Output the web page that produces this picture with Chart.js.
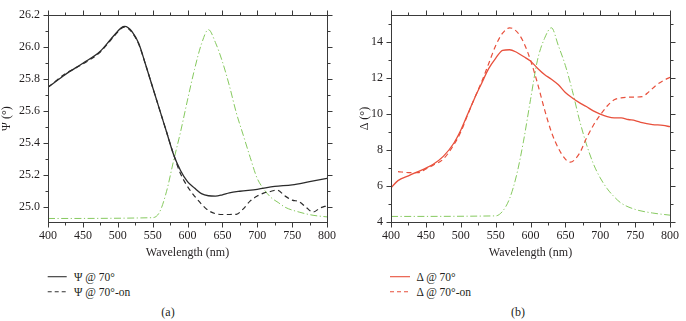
<!DOCTYPE html>
<html>
<head>
<meta charset="utf-8">
<script src="https://cdn.jsdelivr.net/npm/chart.js@4.4.1/dist/chart.umd.min.js"></script>
<style>
  html,body{margin:0;padding:0;background:#fff;}
  #wrap{position:relative;width:686px;height:321px;background:#fff;font-family:"Liberation Serif","DejaVu Serif",serif;color:#231f20;}
  canvas{position:absolute;top:0;}
  .lg{position:absolute;font-size:11.5px;line-height:14px;white-space:nowrap;}
  .cap{position:absolute;font-size:12px;line-height:14px;transform:translateX(-50%);}
  svg{position:absolute;overflow:visible;}
</style>
</head>
<body>
<div id="wrap">
  <canvas id="c1" width="343" height="262" style="left:0"></canvas>
  <canvas id="c2" width="343" height="262" style="left:343px"></canvas>

  <svg style="left:47px;top:270px" width="22" height="26">
    <line x1="0.7" y1="6.7" x2="19.7" y2="6.7" stroke="#333" stroke-width="1.1"/>
    <line x1="0.7" y1="21.7" x2="19.7" y2="21.7" stroke="#333" stroke-width="1.1" stroke-dasharray="4,3"/>
  </svg>
  <div class="lg" style="left:74px;top:269.5px">Ψ @ 70°</div>
  <div class="lg" style="left:74px;top:284.5px">Ψ @ 70°-on</div>
  <div class="cap" style="left:168px;top:305px">(a)</div>

  <svg style="left:390px;top:270px" width="22" height="26">
    <line x1="0" y1="6.7" x2="20" y2="6.7" stroke="#e8503c" stroke-width="1.1"/>
    <line x1="0" y1="21.7" x2="20" y2="21.7" stroke="#e8503c" stroke-width="1.1" stroke-dasharray="4,3"/>
  </svg>
  <div class="lg" style="left:416.5px;top:269.5px">Δ @ 70°</div>
  <div class="lg" style="left:416.5px;top:284.5px">Δ @ 70°-on</div>
  <div class="cap" style="left:518px;top:305px">(b)</div>
</div>
<script>
// ---------- data (a) Ψ ----------
const psiWl  = [400,425,450,475,490,500,505,510,515,520,530,540,550,560,570,580,590,600,610,620,630,640,650,660,675,700,725,750,775,800];
const psiVal = [25.75,25.83,25.90,25.975,26.05,26.10,26.122,26.13,26.122,26.10,26.025,25.89,25.75,25.61,25.47,25.33,25.23,25.16,25.12,25.085,25.072,25.07,25.078,25.09,25.10,25.112,25.13,25.14,25.16,25.18];

const psiOnWl  = [400,425,450,475,490,500,505,510,515,520,530,540,550,560,570,580,590,600,610,620,630,640,650,660,670,680,690,700,710,720,728,740,750,760,770,780,790,800];
const psiOnVal = [25.75,25.835,25.895,25.97,26.045,26.095,26.117,26.125,26.117,26.095,26.02,25.89,25.75,25.61,25.47,25.33,25.21,25.13,25.07,25.02,24.98,24.96,24.955,24.955,24.956,24.99,25.04,25.07,25.09,25.10,25.108,25.07,25.045,25.035,25.00,24.97,24.995,25.01];

const emAWl  = [400,550,560,570,580,590,600,610,620,630,640,650,660,670,680,690,700,710,720,730,740,760,780,800];
const emAVal = [24.93,24.935,24.97,25.10,25.29,25.47,25.67,25.86,26.02,26.11,26.03,25.91,25.76,25.59,25.45,25.31,25.18,25.11,25.06,25.03,25.00,24.97,24.95,24.94];

// ---------- data (b) Δ ----------
const delWl  = [400,410,425,450,460,475,490,500,510,520,530,540,550,560,570,580,590,600,610,620,630,640,650,660,670,680,690,700,710,720,730,740,750,760,775,790,800];
const delVal = [5.90,6.30,6.57,7.00,7.20,7.65,8.38,9.10,10.0,10.9,11.72,12.53,13.10,13.55,13.58,13.44,13.20,12.95,12.55,12.20,11.94,11.63,11.20,10.90,10.64,10.42,10.18,10.00,9.86,9.79,9.79,9.70,9.64,9.52,9.42,9.37,9.30];

const delOnWl  = [410,425,440,450,460,475,490,500,510,520,530,540,550,560,570,580,590,600,610,620,630,640,650,657,670,680,690,700,710,720,730,740,750,760,770,780,790,800];
const delOnVal = [6.80,6.75,6.75,6.95,7.15,7.50,8.29,9.00,9.97,10.9,11.8,12.8,13.8,14.5,14.8,14.6,14.0,13.0,11.72,10.27,9.00,8.10,7.50,7.33,7.80,8.64,9.37,9.95,10.45,10.80,10.90,10.94,10.95,10.97,11.25,11.60,11.85,12.05];

const emBWl  = [400,550,560,570,580,590,600,610,620,630,640,650,660,670,680,690,700,710,720,730,750,775,800];
const emBVal = [4.31,4.34,4.60,5.30,6.60,8.50,10.80,13.00,14.20,14.80,13.80,12.70,11.30,9.70,8.35,7.25,6.45,5.85,5.40,5.05,4.70,4.50,4.38];

const xTicks = [400,450,500,550,600,650,700,750,800];

// ---------- helpers ----------
const FONT = '"Liberation Serif","DejaVu Serif",serif';
const TXT = '#231f20';
const AX = '#3a3a3a';
const pts = (w, v) => w.map((x, i) => ({x, y: v[i]}));

const frameTicks = {
  id: 'frameTicks',
  afterDatasetsDraw(chart, args, o) {
    const {ctx, chartArea: {left, right, top, bottom}, scales: {x, y}} = chart;
    ctx.save();
    ctx.strokeStyle = AX;
    ctx.lineWidth = 1;
    const L = Math.round(left) + 0.5, R = Math.round(right) + 0.5;
    const T = Math.round(top) + 0.5, B = Math.round(bottom) + 0.5;
    ctx.strokeRect(L, T, R - L, B - T);
    ctx.beginPath();
    const isMaj = (v, m) => Math.abs(v / m - Math.round(v / m)) < 1e-6;
    for (let v = Math.ceil(x.min / o.xMinor - 1e-9) * o.xMinor; v <= x.max + 1e-9; v += o.xMinor) {
      const p = Math.round(x.getPixelForValue(v)) + 0.5;
      const len = isMaj(v, o.xMajor) ? 5 : 3;
      ctx.moveTo(p, B); ctx.lineTo(p, B + len);
      ctx.moveTo(p, T); ctx.lineTo(p, T - len);
    }
    for (let k = Math.ceil(y.min / o.yMinor - 1e-9); k * o.yMinor <= y.max + 1e-9; k++) {
      const v = k * o.yMinor;
      const p = Math.round(y.getPixelForValue(v)) + 0.5;
      const len = isMaj(v, o.yMajor) ? 5 : 3;
      ctx.moveTo(L, p); ctx.lineTo(L - len, p);
      ctx.moveTo(R, p); ctx.lineTo(R + len, p);
    }
    ctx.stroke();
    ctx.restore();
  }
};

function makeChart(id, cfg) {
  return new Chart(document.getElementById(id), {
    type: 'line',
    data: {
      datasets: [
        {data: pts(cfg.solidW, cfg.solidV), borderColor: cfg.color, borderWidth: 1.3, order: 1},
        {data: pts(cfg.dashW, cfg.dashV), borderColor: cfg.color, borderWidth: 1.2, borderDash: [5, 3.5], order: 2},
        {data: pts(cfg.emW, cfg.emV), borderColor: '#86c95f', borderWidth: 1, borderDash: [7, 2.5, 1.2, 2.5], order: 3}
      ]
    },
    options: {
      responsive: false,
      animation: false,
      parsing: false,
      layout: {padding: {left: cfg.padL, top: 10, right: cfg.padR, bottom: 0}},
      elements: {point: {radius: 0}, line: {tension: 0, cubicInterpolationMode: 'monotone', fill: false}},
      plugins: {
        legend: {display: false},
        tooltip: {enabled: false},
        frameTicks: {xMinor: 25, xMajor: 50, yMinor: cfg.yMinor, yMajor: cfg.yMajor}
      },
      scales: {
        x: {
          type: 'linear', min: 400, max: 800,
          afterFit: s => { s.height = 40; },
          afterBuildTicks: s => { s.ticks = xTicks.map(v => ({value: v})); },
          grid: {display: false, drawTicks: false},
          border: {display: false},
          ticks: {padding: 7, color: TXT, font: {family: FONT, size: 12}, maxRotation: 0, autoSkip: false},
          title: {display: true, text: 'Wavelength (nm)', color: TXT, font: {family: FONT, size: 12}, padding: {top: 0, bottom: 1.5}}
        },
        y: {
          type: 'linear', min: cfg.yMin, max: cfg.yMax,
          afterFit: s => { s.width = cfg.yW; },
          afterBuildTicks: s => { s.ticks = cfg.yTicks.map(v => ({value: v})); },
          grid: {display: false, drawTicks: false},
          border: {display: false},
          ticks: {padding: 8, color: TXT, font: {family: FONT, size: 12}, callback: v => cfg.fmt(v)},
          title: {display: true, text: cfg.yTitle, color: TXT, font: {family: FONT, size: 12}, padding: {top: 0, bottom: 0}}
        }
      }
    },
    plugins: [frameTicks]
  });
}

const psiTicks = [25.0, 25.2, 25.4, 25.6, 25.8, 26.0, 26.2];
const delTicks = [4, 6, 8, 10, 12, 14];

makeChart('c1', {
  solidW: psiWl, solidV: psiVal, dashW: psiOnWl, dashV: psiOnVal, emW: emAWl, emV: emAVal,
  color: '#2b2b2b', yMin: 24.908, yMax: 26.2, yTicks: psiTicks, yMinor: 0.1, yMajor: 0.2,
  fmt: v => v.toFixed(1), yTitle: 'Ψ (°)', padL: 0, padR: 10, yW: 48
});
makeChart('c2', {
  solidW: delWl, solidV: delVal, dashW: delOnWl, dashV: delOnVal, emW: emBWl, emV: emBVal,
  color: '#e8503c', yMin: 4, yMax: 15.5, yTicks: delTicks, yMinor: 1, yMajor: 2,
  fmt: v => String(Math.round(v)), yTitle: 'Δ (°)', padL: 15, padR: 9, yW: 33
});
</script>
</body>
</html>
